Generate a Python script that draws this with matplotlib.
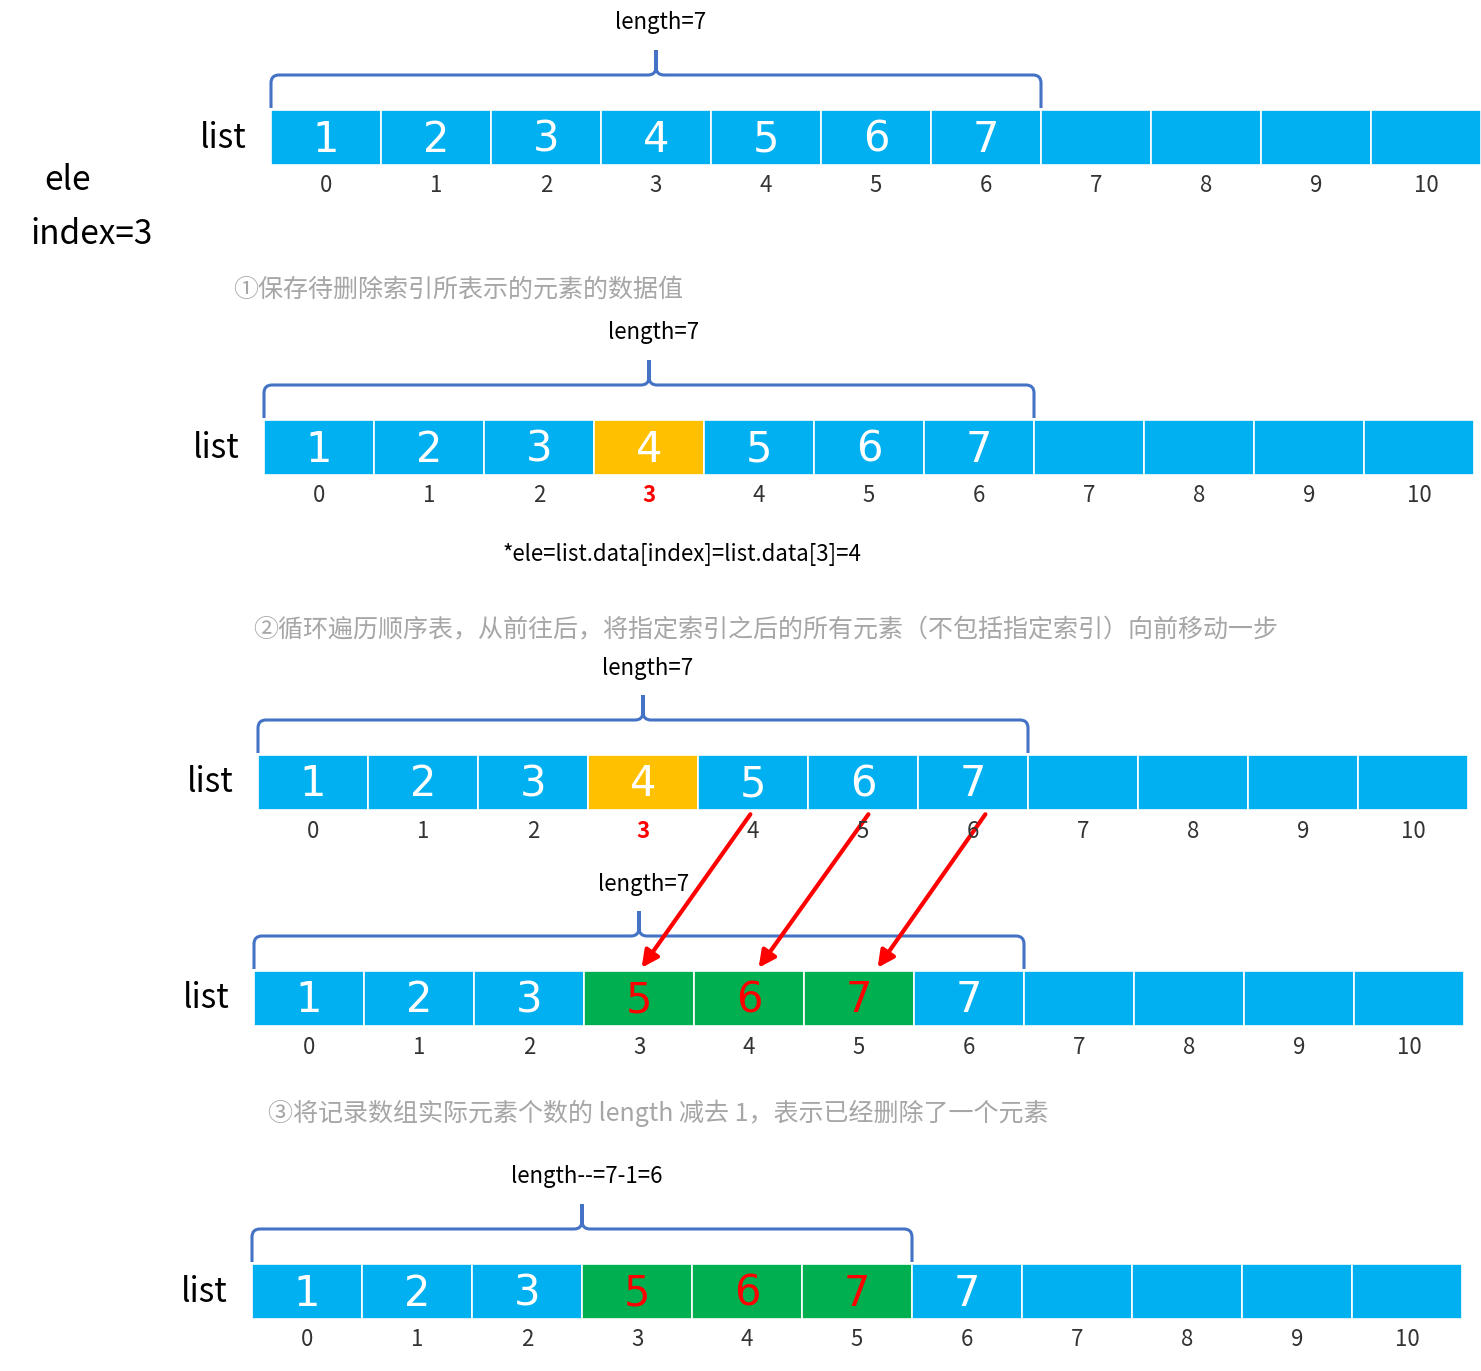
import matplotlib
matplotlib.use("Agg")
import matplotlib.pyplot as plt
from matplotlib.path import Path
from matplotlib.patches import PathPatch, Rectangle, FancyArrowPatch

plt.rcParams['font.family'] = ['Noto Sans CJK SC', 'DejaVu Sans']

values = ["1", "2", "3", "4", "5", "6", "7", "", "", "", ""]
row4_values = ["1", "2", "3", "5", "6", "7", "7", "", "", "", ""]
index_labels = ["0", "1", "2", "3", "4", "5", "6", "7", "8", "9", "10"]
length_labels = ["length=7", "length=7", "length=7", "length=7", "length--=7-1=6"]
brace_cells = [7, 7, 7, 7, 6]
row_x0 = [271, 264, 258, 254, 252]
row_y0 = [110, 420, 755, 971, 1264]
captions = ["①保存待删除索引所表示的元素的数据值",
            "②循环遍历顺序表，从前往后，将指定索引之后的所有元素（不包括指定索引）向前移动一步",
            "③将记录数组实际元素个数的 length 减去 1，表示已经删除了一个元素"]
caption_pos = [(233, 290), (253, 629), (268, 1113)]

BLUE = "#00B0F0"; YELLOW = "#FFC000"; GREEN = "#00B050"; RED = "#FF0000"
W, H = 110, 55

fig = plt.figure(figsize=(14.81, 13.71), dpi=100)
ax = fig.add_axes([0, 0, 1, 1])
ax.set_xlim(0, 1481); ax.set_ylim(1371, 0); ax.axis('off')

def brace(x0, x1, ytop, ybot, peak):
    m = (x0 + x1) / 2
    r = 8
    verts = [(x0, ybot), (x0, ytop + r), (x0, ytop), (x0 + r, ytop),
             (m - r, ytop), (m, ytop), (m, ytop - r), (m, peak),
             (m, ytop - r), (m, ytop), (m + r, ytop),
             (x1 - r, ytop), (x1, ytop), (x1, ytop + r), (x1, ybot)]
    codes = [Path.MOVETO, Path.LINETO, Path.CURVE3, Path.CURVE3,
             Path.LINETO, Path.CURVE3, Path.CURVE3, Path.LINETO,
             Path.LINETO, Path.CURVE3, Path.CURVE3,
             Path.LINETO, Path.CURVE3, Path.CURVE3, Path.LINETO]
    ax.add_patch(PathPatch(Path(verts, codes), fill=False, ec="#4472C4", lw=2.2))

for r in range(5):
    x0, y0 = row_x0[r], row_y0[r]
    vals = row4_values if r >= 3 else values
    for i, v in enumerate(vals):
        fc = BLUE; tc = "white"
        if r in (1, 2) and i == 3:
            fc = YELLOW
        if r >= 3 and i in (3, 4, 5):
            fc = GREEN; tc = RED
        ax.add_patch(Rectangle((x0 + i * W, y0), W, H, fc=fc, ec="white", lw=1.2))
        if v:
            ax.text(x0 + i * W + W / 2, y0 + H / 2 + 2, v, ha='center', va='center',
                    fontsize=30, color=tc, family='DejaVu Sans')
        red = r in (1, 2) and i == 3
        ax.text(x0 + i * W + W / 2 + (-0 if i < 7 else 0), y0 + 76, index_labels[i],
                ha='center', va='center', fontsize=16,
                color=RED if red else "#333333", fontweight='bold' if red else 'normal')
    ax.text(x0 - 24, y0 + 28, "list", ha='right', va='center', fontsize=24, color='black')
    x1 = x0 + brace_cells[r] * W
    ytop = y0 - 35
    brace(x0, x1, ytop, y0 - 2, ytop - 25)
    ax.text((x0 + x1) / 2 + 5, ytop - 52, length_labels[r], ha='center', va='center', fontsize=16)

ax.text(67, 180, "ele", ha='center', va='center', fontsize=24)
ax.text(92, 234, "index=3", ha='center', va='center', fontsize=24)
ax.text(682, 555, "*ele=list.data[index]=list.data[3]=4", ha='center', va='center', fontsize=16)

for (x, y), c in zip(caption_pos, captions):
    ax.text(x, y, c, ha='left', va='center', fontsize=18, color='#A6A6A6', style='italic')

for sx, ex in [(752, 640), (870, 757), (987, 876)]:
    ax.add_patch(FancyArrowPatch((sx, 812), (ex, 970), arrowstyle='-|>',
                                 mutation_scale=25, color=RED, lw=3))

fig.savefig("out.png", dpi=100)
